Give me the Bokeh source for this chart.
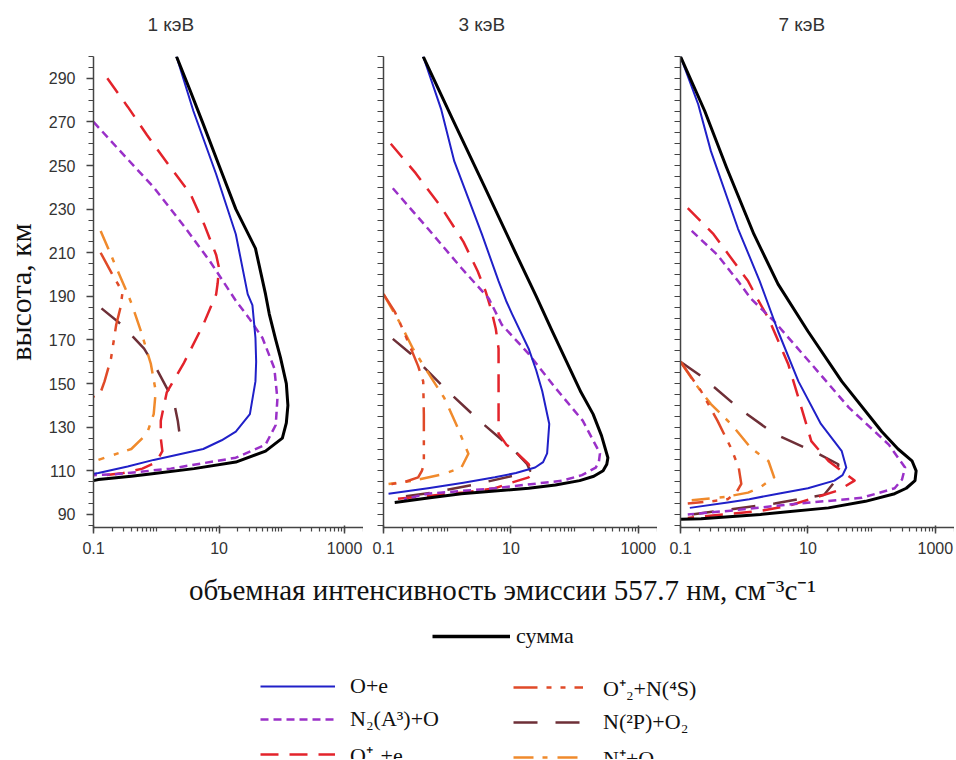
from bokeh.plotting import figure
from bokeh.layouts import row, column
from bokeh.models import (Range1d, FixedTicker, Label, Legend, LegendItem,
                          CustomJSTickFormatter)
from bokeh.embed import file_html
from bokeh.resources import INLINE

# ---------------- data (altitude km, volume emission rate cm^-3 s^-1) ----------------
panel_titles = ["1 кэВ", "3 кэВ", "7 кэВ"]
series_labels = ["сумма", "O+e", "N₂(A³)+O", "O⁺₂+e", "O⁺₂+N(⁴S)", "N(²P)+O₂", "N⁺+O₂"]
y_ticks = [90, 110, 130, 150, 170, 190, 210, 230, 250, 270, 290]
x_ticks = [0.1, 10, 1000]

# ---- 1 keV ----
h_sum_1 = [300, 285, 269, 250, 230, 212, 191, 182, 170, 162, 150, 140, 132, 125, 119, 114, 111, 108.5, 107.5, 106, 105.5]
v_sum_1 = [2.1, 3.4, 5.6, 10, 18.5, 38, 55, 63, 80, 95, 118, 125, 118, 102, 55, 18.5, 4, 0.8, 0.4, 0.12, 0.1]
h_oe_1 = [300, 275, 246, 218.5, 191, 186, 171, 160, 151, 136, 128, 124, 120, 115, 112, 109, 108.7]
v_oe_1 = [2.1, 3.9, 9, 18.5, 28.6, 34, 38, 39, 38, 31, 18.5, 11, 5.6, 0.91, 0.35, 0.12, 0.1]
h_n2_1 = [270, 255, 240, 222, 206, 188, 180, 171, 157, 143, 131, 122, 116, 111, 108.5, 108]
v_n2_1 = [0.1, 0.3, 0.91, 2.8, 7.2, 18.5, 30, 49, 76, 85, 80, 55, 18.5, 1.7, 0.24, 0.1]
h_o2e_1 = [290, 277, 264, 250, 237, 223, 209, 203, 196, 191, 177, 159, 146, 133, 125, 119, 114, 111, 109, 108]
v_o2e_1 = [0.166, 0.35, 0.71, 1.6, 3.5, 5.8, 9, 10, 9.5, 9, 5.6, 2.7, 1.47, 1.18, 1.18, 1.25, 1.0, 0.6, 0.3, 0.15]
h_o2n_1 = [210, 200, 192, 185, 177, 161.5, 151, 146, 144]
v_o2n_1 = [0.13, 0.2, 0.29, 0.27, 0.23, 0.19, 0.15, 0.13, 0.1]
h_n2p_1 = [184.5, 177, 166, 157, 142, 133, 125, 121]
v_n2p_1 = [0.134, 0.28, 0.64, 1.0, 1.9, 2.2, 2.4, 2.1]
h_np_1 = [220, 206, 192, 187, 174, 159, 146.5, 136, 127, 120, 116, 115]
v_np_1 = [0.13, 0.21, 0.34, 0.4, 0.57, 0.82, 0.98, 0.91, 0.71, 0.4, 0.15, 0.12]

# ---- 3 keV ----
h_sum_2 = [300, 270, 240, 210, 190, 175, 160, 146, 136, 126, 116, 113, 110, 107.5, 105.5, 103.5, 102, 99.5, 97.5, 96, 95.5]
v_sum_2 = [0.42, 1.27, 3.9, 11.8, 25, 43, 75, 126, 195, 265, 333, 320, 280, 200, 120, 50, 19, 1.67, 0.5, 0.21, 0.15]
h_oe_2 = [300, 276, 252, 218.5, 197, 188, 182, 166, 156, 146.6, 131.5, 118, 114, 111.5, 109, 107, 104.5, 102, 99.5]
v_oe_2 = [0.42, 0.8, 1.29, 3.5, 6.4, 8.4, 10.4, 19, 25, 31, 40, 37, 32, 24, 12, 5.6, 1.8, 0.5, 0.12]
h_n2_2 = [239.6, 221, 203, 189, 177, 163.6, 148, 133, 118, 114, 111.5, 108, 105.5, 102, 99.5, 97]
v_n2_2 = [0.14, 0.5, 1.67, 4.5, 7.2, 19, 50, 134, 250, 240, 215, 130, 65, 5.6, 0.5, 0.21]
h_o2e_2 = [260, 246.5, 231, 215, 201.6, 192.4, 183, 175, 166, 146.6, 127, 122, 119, 113, 109, 107, 104.5, 102, 100, 98.5, 97]
v_o2e_2 = [0.13, 0.32, 0.8, 1.8, 3.0, 4.0, 5.0, 5.8, 6.4, 6.4, 6.4, 8.5, 11.6, 19, 21, 19, 10, 5.6, 1.8, 0.5, 0.14]
h_o2n_2 = [191, 183, 175, 166, 158, 151, 136, 113, 110, 107, 105, 104, 103.8]
v_o2n_2 = [0.1, 0.15, 0.2, 0.27, 0.35, 0.42, 0.43, 0.43, 0.4, 0.35, 0.22, 0.14, 0.1]
h_n2p_2 = [170.5, 163.6, 148, 133, 119, 113, 110, 108, 104, 100, 97.5]
v_n2p_2 = [0.14, 0.27, 0.9, 3.2, 11.6, 18, 20, 12, 3, 0.6, 0.14]
h_np_2 = [191, 178, 166, 155, 143.4, 131, 117.8, 111.5, 108.6, 105.5, 104]
v_np_2 = [0.1, 0.18, 0.29, 0.5, 0.9, 1.4, 2.15, 1.67, 0.9, 0.3, 0.12]

# ---- 7 keV ----
h_sum_3 = [300, 275, 249, 218.5, 195.6, 174, 151, 128, 120, 114.6, 110, 105.5, 102, 99.5, 96, 93, 90, 88, 87.8]
v_sum_3 = [0.1, 0.24, 0.53, 1.42, 3.4, 10, 34, 144, 260, 430, 500, 480, 350, 230, 80, 21, 1.8, 0.21, 0.1]
h_oe_3 = [300, 278, 256.6, 221, 197, 174, 151, 131.5, 119, 111.5, 108, 105.5, 102, 99.5, 97, 95.5, 93]
v_oe_3 = [0.1, 0.19, 0.3, 0.8, 1.75, 3.4, 7.1, 16, 34, 40, 35, 26, 10, 3.4, 1.2, 0.55, 0.14]
h_n2_3 = [220, 209, 197, 189, 178.6, 159, 139, 122, 111.5, 106, 102, 97.6, 94.8, 91.6, 90]
v_n2_3 = [0.15, 0.38, 0.8, 1.27, 2.95, 11.3, 44, 186, 335, 300, 230, 70, 6.2, 0.55, 0.13]
h_o2e_3 = [230.5, 218.5, 197, 189, 180, 159, 139, 123.6, 114.5, 105.5, 101, 97.6, 94, 91.6, 88.4]
v_o2e_3 = [0.13, 0.33, 1.15, 1.6, 2.4, 4.9, 7.9, 11.3, 21, 54, 30, 12.6, 5, 1.8, 0.13]
h_o2n_3 = [160, 146.6, 133, 120.5, 111.5, 104, 100, 97, 96, 95]
v_o2n_3 = [0.1, 0.21, 0.38, 0.62, 0.82, 0.9, 0.75, 0.55, 0.3, 0.13]
h_n2p_3 = [160, 153.5, 139, 127, 117.8, 113, 106, 99, 95, 92, 90]
v_n2p_3 = [0.1, 0.21, 0.8, 2.95, 14.6, 30, 28, 18, 3, 0.5, 0.15]
h_np_3 = [160, 150, 140.6, 131.5, 120.5, 114.5, 107, 102.5, 100, 98, 96.5]
v_np_3 = [0.1, 0.17, 0.3, 0.62, 1.27, 2.4, 2.95, 1.8, 1.15, 0.5, 0.15]

panels = [
    [(h_sum_1, v_sum_1), (h_oe_1, v_oe_1), (h_n2_1, v_n2_1), (h_o2e_1, v_o2e_1),
     (h_o2n_1, v_o2n_1), (h_n2p_1, v_n2p_1), (h_np_1, v_np_1)],
    [(h_sum_2, v_sum_2), (h_oe_2, v_oe_2), (h_n2_2, v_n2_2), (h_o2e_2, v_o2e_2),
     (h_o2n_2, v_o2n_2), (h_n2p_2, v_n2p_2), (h_np_2, v_np_2)],
    [(h_sum_3, v_sum_3), (h_oe_3, v_oe_3), (h_n2_3, v_n2_3), (h_o2e_3, v_o2e_3),
     (h_o2n_3, v_o2n_3), (h_n2p_3, v_n2p_3), (h_np_3, v_np_3)],
]

# ---------------- styles ----------------
colors = ["#000000", "#2020c8", "#9a30c8", "#e3232b", "#e04a28", "#6e2f37", "#f08a2c"]
widths = [3, 2, 2.5, 2.5, 2.5, 2.5, 2.5]
dashes = ["solid", "solid", "8 5", "18 11", "24 9 5 9 5 9", "24 18", "20 9 5 10"]
draw_order = [5, 6, 4, 3, 2, 1, 0]

FONT_SANS = "Liberation Sans"
FONT_SERIF = "Liberation Serif"

TOTAL_W = 954
frame_w = 274
frame_h = 471
lefts = [89, 20, 23]
STRIP_H = 52          # strip with the panel captions
TOP_PAD = 4
title_left = [147, 458, 778]
title_center_y = 24

# ---------------- caption strip ----------------
pt = figure(width=TOTAL_W, height=STRIP_H, x_range=Range1d(0, TOTAL_W), y_range=Range1d(0, STRIP_H),
            output_backend="svg", toolbar_location=None, min_border=0)
pt.axis.visible = False
pt.grid.visible = False
pt.outline_line_color = None
for i in range(3):
    pt.add_layout(Label(x=title_left[i], y=STRIP_H - title_center_y, text=panel_titles[i],
                        text_align="left", text_baseline="middle", text_font=FONT_SANS,
                        text_font_size="19px", text_color="#333333"))

# ---------------- panels ----------------
figs = []
for i in range(3):
    p = figure(width=lefts[i] + frame_w, height=TOP_PAD + frame_h + 38, x_axis_type="log",
               x_range=Range1d(0.1, 2000), y_range=Range1d(84, 300),
               output_backend="svg", toolbar_location=None,
               min_border_left=lefts[i], min_border_right=0,
               min_border_top=TOP_PAD, min_border_bottom=38)
    p.outline_line_color = None
    p.grid.visible = False
    p.background_fill_color = "white"
    p.border_fill_color = "white"

    for ax in (p.xaxis[0], p.yaxis[0]):
        ax.axis_line_color = "#444444"
        ax.axis_line_width = 1.5
        ax.major_tick_line_color = "#444444"
        ax.minor_tick_line_color = "#444444"
        ax.major_tick_line_width = 1.5
        ax.minor_tick_line_width = 1.2
        ax.major_label_text_font = FONT_SANS
        ax.major_label_text_font_size = "16px"
        ax.major_label_text_color = "#333333"

    xa = p.xaxis[0]
    minor_x = []
    for d in [0.1, 1, 10, 100, 1000]:
        for k in range(1, 10):
            minor_x.append(d * k)
    minor_x = [m for m in minor_x if m <= 2000]
    xa.ticker = FixedTicker(ticks=x_ticks, minor_ticks=minor_x)
    xa.formatter = CustomJSTickFormatter(code="return String(+tick.toPrecision(6));")
    xa.major_tick_in = 2
    xa.major_tick_out = 6
    xa.minor_tick_in = 0
    xa.minor_tick_out = 4
    xa.major_label_standoff = 8

    ya = p.yaxis[0]
    if i == 0:
        ya.ticker = FixedTicker(ticks=y_ticks, minor_ticks=list(range(85, 301, 5)))
        ya.major_tick_in = 0
        ya.major_tick_out = 7
        ya.minor_tick_in = 0
        ya.minor_tick_out = 5
        ya.major_label_standoff = 11
        ya.axis_label = "высота, км"
        ya.axis_label_text_font = FONT_SERIF
        ya.axis_label_text_font_size = "30px"
        ya.axis_label_text_font_style = "normal"
        ya.axis_label_text_color = "#111111"
        ya.axis_label_standoff = 9
    else:
        # ticks without labels on the inner panels
        ya.ticker = FixedTicker(ticks=[], minor_ticks=list(range(85, 301, 5)))
        ya.minor_tick_in = 0
        ya.minor_tick_out = 6
        ya.major_label_standoff = 0

    for s in draw_order:
        h, v = panels[i][s]
        p.line(x=v, y=h, line_color=colors[s], line_width=widths[s],
               line_dash=dashes[s], line_join="round")
    figs.append(p)

# ---------------- bottom: x-axis caption and legend ----------------
BH = 194
pb = figure(width=TOTAL_W, height=BH, x_range=Range1d(0, TOTAL_W), y_range=Range1d(0, BH),
            output_backend="svg", toolbar_location=None, min_border=0)
pb.axis.visible = False
pb.grid.visible = False
pb.outline_line_color = None

pb.add_layout(Label(x=502, y=BH - 24, text="объемная интенсивность эмиссии 557.7 нм, см⁻³с⁻¹",
                    text_align="center", text_baseline="alphabetic",
                    text_font=FONT_SERIF, text_font_size="29px", text_color="#111111"))

# legend proxies (kept outside the visible range; only their styles are shown in the legend)
proxy_x = [-50, -40]
proxy_y = [-50, -50]
rends = []
for s in range(7):
    r = pb.line(x=proxy_x, y=proxy_y, line_color=colors[s],
                line_width=widths[s] if s else 3.5, line_dash=dashes[s])
    rends.append(r)


def make_legend(idxs, loc, gw, standoff):
    lg = Legend(items=[LegendItem(label=series_labels[k], renderers=[rends[k]]) for k in idxs],
                location=loc)
    lg.border_line_color = None
    lg.background_fill_alpha = 0
    lg.padding = 0
    lg.margin = 0
    lg.spacing = 7
    lg.glyph_width = gw
    lg.glyph_height = 26
    lg.label_height = 26
    lg.label_standoff = standoff
    lg.label_text_font = FONT_SERIF
    lg.label_text_font_size = "22px"
    lg.label_text_color = "#111111"
    lg.label_text_baseline = "middle"
    pb.add_layout(lg)
    return lg


make_legend([0], (432, 110), 78, 6)
make_legend([1, 2, 3], (260, -10), 75, 15)
make_legend([4, 5, 6], (513, -13), 70, 20)

layout = column(pt, row(*figs, spacing=0), pb, spacing=0)

open("out.html", "w").write(file_html(layout, INLINE))
